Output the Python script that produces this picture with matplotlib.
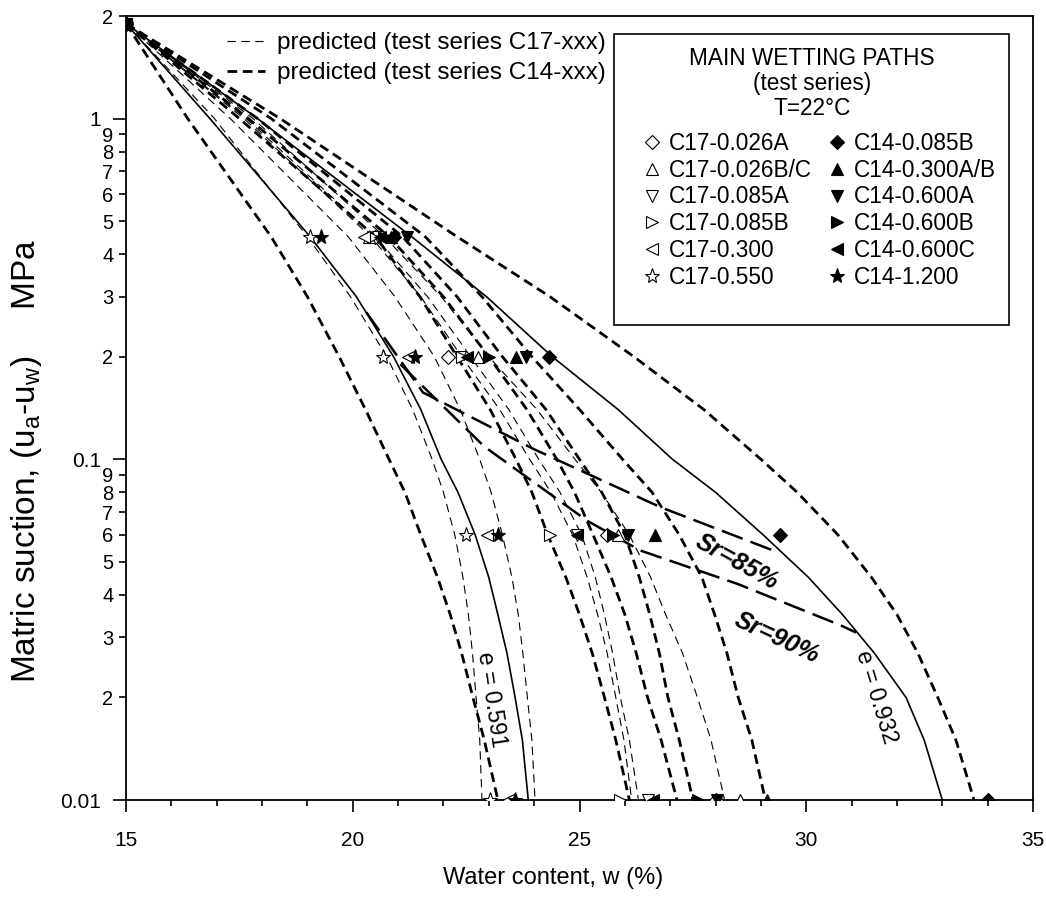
import numpy as np
import matplotlib.pyplot as plt
from matplotlib.ticker import FixedLocator, FixedFormatter, MultipleLocator
from matplotlib.patches import Rectangle
from matplotlib.lines import Line2D

plt.rcParams['font.family'] = ['Liberation Sans', 'DejaVu Sans']
plt.rcParams['mathtext.fontset'] = 'custom'
plt.rcParams['mathtext.rm'] = 'Liberation Sans'
plt.rcParams['mathtext.it'] = 'Liberation Sans:italic'
plt.rcParams['mathtext.default'] = 'regular'
plt.rcParams['lines.scale_dashes'] = False

# ---- measured points: water content (%) at suction levels (MPa)
suction_pts = [1.9, 0.45, 0.2, 0.06, 0.01]

w_c17_026A = [15, 20.5, 22.1, 25.6, 28.0]
w_c17_026BC = [15, 20.35, 22.77, 25.84, 28.55]
w_c17_085A = [15, 20.55, 22.37, 24.95, 26.5]
w_c17_085B = [15, 20.45, 22.4, 24.35, 25.9]
w_c17_300 = [15, 20.25, 21.22, 22.96, 23.43]
w_c17_550 = [15, 19.05, 20.67, 22.5, 23.03]

w_c14_085B = [15, 20.9, 24.33, 29.43, 34.0]
w_c14_300AB = [15, 20.85, 23.6, 26.67, 29.14]
w_c14_600A = [15, 21.2, 23.82, 26.07, 28.03]
w_c14_600B = [15, 20.7, 23.0, 25.73, 27.62]
w_c14_600C = [15, 20.6, 22.52, 24.95, 26.63]
w_c14_1200 = [15, 19.3, 21.38, 23.2, 23.58]

c17_labels = ['C17-0.026A', 'C17-0.026B/C', 'C17-0.085A', 'C17-0.085B', 'C17-0.300', 'C17-0.550']
c14_labels = ['C14-0.085B', 'C14-0.300A/B', 'C14-0.600A', 'C14-0.600B', 'C14-0.600C', 'C14-1.200']

# ---- predicted wetting curves (water content at suction levels)
curve_suction = [1.9, 1.0, 0.45, 0.3, 0.2, 0.14, 0.1, 0.08, 0.06, 0.045, 0.035, 0.027, 0.02, 0.015, 0.01]

pred_c17_a = [15, 16.95, 19.0, 19.95, 20.75, 21.32, 21.75, 22.0, 22.25, 22.43, 22.55, 22.64, 22.72, 22.8, 22.85]
pred_c17_b = [15, 17.3, 19.9, 20.93, 21.8, 22.37, 22.8, 23.05, 23.3, 23.51, 23.65, 23.75, 23.85, 23.95, 24.02]
pred_c17_c = [15, 17.6, 20.4, 21.5, 22.4, 23.24, 23.9, 24.37, 24.85, 25.17, 25.4, 25.61, 25.8, 25.98, 26.15]
pred_c17_d = [15, 17.65, 20.5, 21.65, 22.6, 23.44, 24.1, 24.57, 25.05, 25.35, 25.55, 25.73, 25.9, 26.1, 26.3]
pred_c17_e = [15, 17.8, 20.7, 21.95, 23.0, 24.06, 24.9, 25.48, 26.1, 26.57, 26.9, 27.27, 27.6, 27.9, 28.2]

pred_c14_a = [15, 16.36, 18.2, 19.0, 19.7, 20.28, 20.8, 21.15, 21.5, 21.87, 22.15, 22.4, 22.65, 22.9, 23.2]
pred_c14_b = [15, 17.5, 20.5, 21.48, 22.3, 23.03, 23.6, 23.95, 24.3, 24.7, 25.0, 25.28, 25.55, 25.8, 26.1]
pred_c14_c = [15, 17.7, 20.8, 22.0, 23.0, 23.84, 24.5, 24.89, 25.3, 25.7, 26.0, 26.25, 26.5, 26.8, 27.15]
pred_c14_d = [15, 17.9, 21.1, 22.3, 23.3, 24.26, 25.0, 25.49, 26.0, 26.32, 26.55, 26.76, 26.95, 27.2, 27.5]
pred_c14_e = [15, 18.2, 21.6, 22.85, 23.95, 25.0, 25.95, 26.6, 27.2, 27.7, 27.98, 28.25, 28.5, 28.8, 29.1]
pred_c14_f = [15, 18.4, 22.3, 24.35, 26.2, 27.74, 29.0, 29.8, 30.7, 31.44, 32.0, 32.46, 32.9, 33.3, 33.7]

e_0591 = [15, 16.85, 19.06, 20.08, 20.9, 21.5, 21.95, 22.32, 22.7, 23.0, 23.2, 23.4, 23.58, 23.74, 23.87]
e_0932 = [15, 17.9, 21.3, 22.95, 24.4, 25.85, 27.05, 28.0, 29.05, 30.05, 30.8, 31.5, 32.2, 32.6, 33.0]

sr85_w = [20.3, 21.55, 24.0, 26.78, 29.27]
sr85_s = [0.27, 0.157, 0.107, 0.0724, 0.054]
sr90_w = [21.05, 22.9, 25.17, 26.34, 28.5, 30.75, 31.1]
sr90_s = [0.19, 0.109, 0.066, 0.054, 0.043, 0.0326, 0.031]

fig = plt.figure(figsize=(10.46, 9.13), dpi=100)
ax = fig.add_axes([126 / 1046, 1 - 800 / 913, 907 / 1046, 784 / 913])
ax.set_yscale('log')

thin = dict(color='black', lw=0.8, dashes=(6, 4))
thick = dict(color='black', lw=2.0, dashes=(7, 4))
for w in [pred_c17_a, pred_c17_b, pred_c17_c, pred_c17_d, pred_c17_e]:
    ax.plot(w, curve_suction, **thin)
for w in [pred_c14_a, pred_c14_b, pred_c14_c, pred_c14_d, pred_c14_e, pred_c14_f]:
    ax.plot(w, curve_suction, **thick)
ax.plot(e_0591, curve_suction, color='black', lw=1.2)
ax.plot(e_0932, curve_suction, color='black', lw=1.2)
ax.plot(sr85_w, sr85_s, color='black', lw=1.8, dashes=(16, 6))
ax.plot(sr90_w, sr90_s, color='black', lw=1.8, dashes=(16, 6))

c17_series = [w_c17_026A, w_c17_026BC, w_c17_085A, w_c17_085B, w_c17_300, w_c17_550]
c14_series = [w_c14_085B, w_c14_300AB, w_c14_600A, w_c14_600B, w_c14_600C, w_c14_1200]
markers = ['D', '^', 'v', '>', '<', '*']
sizes = [7.5, 9, 9, 9, 9, 11]

handles = []
for w, lab, m, ms in zip(c17_series, c17_labels, markers, sizes):
    h, = ax.plot(w, suction_pts, ls='none', marker=m, ms=ms, mfc='white',
                 mec='black', mew=0.8, label=lab, zorder=5)
    handles.append(h)
for w, lab, m, ms in zip(c14_series, c14_labels, markers, sizes):
    h, = ax.plot(w, suction_pts, ls='none', marker=m, ms=ms, mfc='black',
                 mec='black', mew=0.8, label=lab, zorder=6)
    handles.append(h)

ax.set_xlim(15, 35)
ax.set_ylim(0.01, 2)

# axes ticks
y_major = [0.01, 0.1, 1]
y_major_labels = ['0.01', '0.1', '1']
y_minor = [0.02, 0.03, 0.04, 0.05, 0.06, 0.07, 0.08, 0.09,
           0.2, 0.3, 0.4, 0.5, 0.6, 0.7, 0.8, 0.9, 2]
y_minor_labels = ['2', '3', '4', '5', '6', '7', '8', '9'] * 2 + ['2']
ax.yaxis.set_major_locator(FixedLocator(y_major))
ax.yaxis.set_major_formatter(FixedFormatter(y_major_labels))
ax.yaxis.set_minor_locator(FixedLocator(y_minor))
ax.yaxis.set_minor_formatter(FixedFormatter(y_minor_labels))
ax.xaxis.set_major_locator(MultipleLocator(5))
ax.xaxis.set_minor_locator(MultipleLocator(1))

ax.tick_params(axis='y', which='major', length=9.4, width=1.2, labelsize=15, pad=8.5)
ax.tick_params(axis='y', which='minor', length=5, width=1.2, labelsize=14.5, pad=4)
ax.tick_params(axis='x', which='major', length=8.6, width=1.2, labelsize=15, pad=14)
ax.tick_params(axis='x', which='minor', length=4.5, width=1.2)
for sp in ax.spines.values():
    sp.set_linewidth(1.3)

fig.text(553 / 1046, 1 - 878 / 913, 'Water content, w (%)', ha='center', va='center', fontsize=17)
fig.text(27 / 1046, 1 - 461 / 913, 'Matric suction, (u$_a$-u$_w$)     MPa',
         rotation=90, ha='center', va='center', fontsize=24)

# curve annotations
ax.text(23.07, 0.0197, 'e = 0.591', rotation=-81.5, ha='center', va='center', fontsize=16.5)
ax.text(31.55, 0.020, 'e = 0.932', rotation=-73, ha='center', va='center', fontsize=16.5)
ax.text(28.48, 0.050, 'Sr=85%', rotation=-29, ha='center', va='center', fontsize=18,
        fontweight='bold', fontstyle='italic')
ax.text(29.36, 0.030, 'Sr=90%', rotation=-25, ha='center', va='center', fontsize=18,
        fontweight='bold', fontstyle='italic')

# line legend (top left)
line_handles = [Line2D([], [], **thin), Line2D([], [], **thick)]
leg1 = ax.legend(line_handles, ['predicted (test series C17-xxx)', 'predicted (test series C14-xxx)'],
                 loc='upper left', bbox_to_anchor=(0.1114, 0.979), frameon=False, borderpad=0,
                 borderaxespad=0, fontsize=17.5, handlelength=1.56, handletextpad=0.5,
                 labelspacing=0.31)
ax.add_artist(leg1)

# marker legend box (top right)
ax.add_patch(Rectangle((0.538, 0.606), 0.4355, 0.371, transform=ax.transAxes,
                       fill=False, lw=1.2, ec='black', zorder=7))
for txt, yb in zip(['MAIN WETTING PATHS', '(test series)', 'T=22\u00b0C'], [0.9375, 0.9056, 0.8737]):
    ax.text(0.756, yb, txt, transform=ax.transAxes, ha='center', va='baseline', fontsize=16.3)
leg2 = ax.legend(handles, [h.get_label() for h in handles], ncol=2,
                 loc='upper left', bbox_to_anchor=(0.5722, 0.852), frameon=False, borderpad=0,
                 borderaxespad=0, fontsize=16.3, handlelength=0.6, handletextpad=0.45,
                 labelspacing=0.164, columnspacing=0.82)

fig.savefig('out.png', dpi=100)
